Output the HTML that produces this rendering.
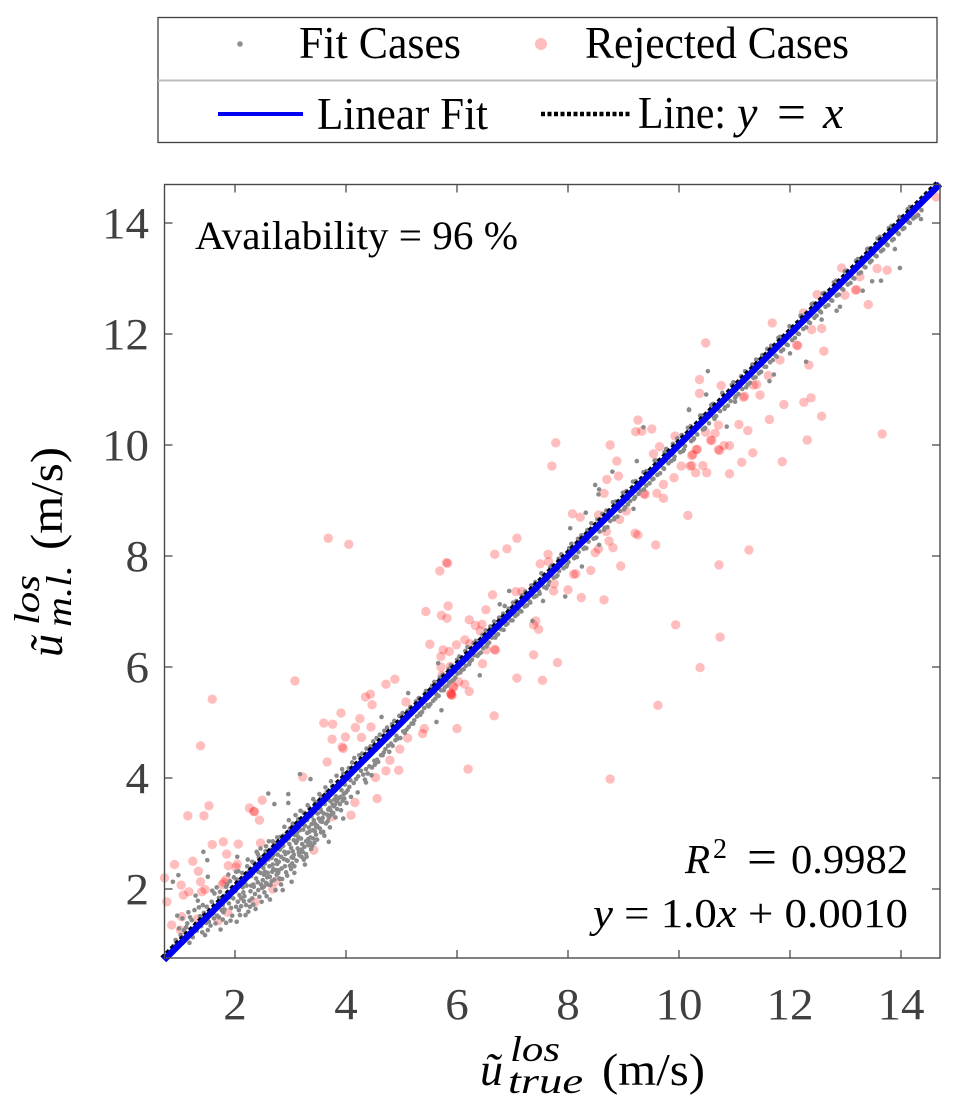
<!DOCTYPE html>
<html>
<head>
<meta charset="utf-8">
<title>Line-of-sight velocity scatter</title>
<style>
html,body{margin:0;padding:0;background:#fff;}
svg{display:block;}
text{font-family:"Liberation Serif","DejaVu Serif",serif;}
</style>
</head>
<body>
<svg id="chart" width="961" height="1111" viewBox="0 0 961 1111" xmlns="http://www.w3.org/2000/svg">
  <g id="legend">
    <rect x="158" y="17.5" width="779" height="125" fill="#fff" stroke="#404040" stroke-width="1.3"/>
    <line x1="158" y1="80.5" x2="937" y2="80.5" stroke="#bdbdbd" stroke-width="2"/>
    <circle cx="240" cy="44" r="2.8" fill="#8f8f8f"/>
    <text x="299" y="58" font-size="46" textLength="162" lengthAdjust="spacingAndGlyphs">Fit Cases</text>
    <circle cx="541" cy="44" r="6" fill="#ffbdbd"/>
    <text x="585" y="58" font-size="46" textLength="264" lengthAdjust="spacingAndGlyphs">Rejected Cases</text>
    <line x1="218" y1="114" x2="303" y2="114" stroke="#0000f0" stroke-width="4"/>
    <text x="317" y="129" font-size="46" textLength="171" lengthAdjust="spacingAndGlyphs">Linear Fit</text>
    <line x1="541" y1="114" x2="630" y2="114" stroke="#000" stroke-width="4.5" stroke-dasharray="4 2.5"/>
    <text x="638" y="128" font-size="46" textLength="88" lengthAdjust="spacingAndGlyphs">Line:</text>
    <text x="737" y="128" font-size="46" font-style="italic">y</text>
    <text x="777" y="129" font-size="50" textLength="29" lengthAdjust="spacingAndGlyphs">=</text>
    <text x="823" y="128" font-size="46" font-style="italic">x</text>
  </g>

  <rect x="164.5" y="184.5" width="775.5" height="773.5" fill="#fff"/>
  <g id="rejected"></g>
  <g id="fit"></g>
  <g id="lines"></g>
  <g id="ticks"></g>
  <rect x="164.5" y="184.5" width="775.5" height="773.5" fill="none" stroke="#4a4a4a" stroke-width="1.4"/>
  <g id="ticklabels"></g>

  <text x="195" y="249" font-size="40" textLength="323" lengthAdjust="spacingAndGlyphs">Availability = 96 %</text>

  <g>
    <text x="685" y="873" font-size="41" font-style="italic">R</text>
    <text x="713" y="858" font-size="28">2</text>
    <text x="747" y="874" font-size="50" textLength="30" lengthAdjust="spacingAndGlyphs">=</text>
    <text x="791" y="873" font-size="41" textLength="117" lengthAdjust="spacingAndGlyphs">0.9982</text>
  </g>
  <text x="593" y="927" font-size="41" textLength="315" lengthAdjust="spacingAndGlyphs"><tspan font-style="italic">y</tspan> = 1.0<tspan font-style="italic">x</tspan> + 0.0010</text>

  <g>
    <text x="480" y="1085" font-size="46" font-style="italic">ũ</text>
    <text x="510" y="1061" font-size="36" font-style="italic" textLength="50" lengthAdjust="spacingAndGlyphs">los</text>
    <text x="508" y="1093" font-size="36" font-style="italic" textLength="75" lengthAdjust="spacingAndGlyphs">true</text>
    <text x="602" y="1085" font-size="46" textLength="103" lengthAdjust="spacingAndGlyphs">(m/s)</text>
  </g>
  <g transform="translate(62,0) rotate(-90)">
    <text x="-657" y="0" font-size="46" font-style="italic">ũ</text>
    <text x="-625" y="-23" font-size="36" font-style="italic" textLength="50" lengthAdjust="spacingAndGlyphs">los</text>
    <text x="-627" y="9" font-size="36" font-style="italic" textLength="62" lengthAdjust="spacingAndGlyphs">m.l.</text>
    <text x="-550" y="0" font-size="46" textLength="103" lengthAdjust="spacingAndGlyphs">(m/s)</text>
  </g>
</svg>
<script>
const xTicks = [2, 4, 6, 8, 10, 12, 14];
const yTicks = [2, 4, 6, 8, 10, 12, 14];
const axisMin = 0.72;
const axisMax = 14.7;
const fitSlope = 1.0;
const fitIntercept = 0.001;

const rejectedCases = [
[1.59,5.42],[1.38,4.58],[3.08,5.75],[1.15,3.32],[1.44,3.32],[1.53,3.50],[0.91,2.44],[1.24,2.50],[1.34,2.32],[1.03,2.07],
[0.73,2.20],[0.77,1.77],[1.07,1.89],[1.17,1.95],[1.38,2.13],[1.40,1.95],[1.46,1.99],[0.86,1.35],[1.02,1.26],[1.04,1.50],
[1.32,1.46],[1.70,1.43],[1.87,1.58],[1.79,2.85],[1.59,2.80],[2.06,2.81],[1.85,2.63],[1.88,2.42],[2.04,2.45],[1.80,2.12],
[1.84,2.17],[1.77,2.08],[2.02,2.39],[2.36,1.76],[2.68,2.00],[2.74,2.14],[2.26,3.46],[2.34,3.40],[2.35,3.39],[2.49,3.60],
[2.44,3.24],[2.46,2.83],[3.42,2.70],[3.22,4.02],[3.66,4.29],[3.60,4.99],[3.76,4.97],[3.91,5.17],[3.75,4.70],[3.99,4.74],
[3.93,4.56],[3.95,4.53],[4.17,4.91],[4.25,5.07],[4.35,5.46],[4.44,5.51],[4.47,5.32],[4.72,5.69],[4.88,5.78],[4.45,4.92],
[4.28,4.73],[4.09,3.33],[4.16,3.56],[4.56,3.63],[4.53,4.01],[3.74,3.30],[4.72,4.13],[4.95,4.14],[4.79,4.32],[4.97,4.52],
[5.11,4.72],[5.38,4.80],[5.41,4.89],[6.00,4.89],[5.89,5.53],[5.90,5.50],[5.08,5.37],[5.93,5.64],[5.71,6.00],[9.26,10.45],
[9.22,10.24],[9.33,10.25],[9.51,10.29],[7.78,10.04],[7.71,9.62],[8.76,10.00],[8.88,9.71],[8.70,9.38],[8.91,9.44],[8.65,9.13],
[9.65,9.97],[9.54,9.84],[9.93,10.16],[10.23,9.81],[10.25,9.83],[10.31,9.92],[10.04,9.62],[10.23,9.63],[10.30,9.50],[9.91,9.41],
[9.72,9.29],[9.60,9.13],[9.72,9.04],[9.37,9.12],[9.39,9.11],[10.16,8.73],[8.08,8.76],[8.22,8.70],[8.55,8.74],[9.05,8.81],
[8.93,8.66],[9.21,8.41],[9.26,8.38],[9.58,8.20],[8.95,7.82],[8.41,7.74],[8.10,7.67],[8.14,7.68],[8.81,8.15],[8.74,8.27],
[8.69,8.44],[8.49,8.06],[8.55,8.13],[7.64,8.03],[7.50,7.86],[7.65,7.90],[7.08,8.32],[6.90,8.13],[6.68,8.03],[5.81,7.88],
[5.83,7.87],[5.69,7.73],[6.64,7.30],[7.06,7.36],[7.17,7.36],[5.84,7.10],[5.44,7.00],[5.72,6.93],[5.82,6.88],[6.52,7.03],
[6.22,6.85],[6.33,6.75],[6.45,6.77],[6.42,6.65],[6.14,6.49],[6.23,6.42],[5.99,6.40],[5.51,6.41],[5.75,6.31],[5.86,6.28],
[5.71,6.19],[5.88,6.01],[5.73,5.85],[6.03,5.73],[6.46,6.06],[6.53,6.31],[6.68,6.32],[6.69,6.30],[6.14,5.69],[6.22,5.56],
[5.89,5.51],[5.91,5.49],[5.94,5.64],[7.38,6.22],[7.81,6.08],[7.08,5.80],[7.54,5.76],[7.38,6.76],[7.47,6.68],[7.42,6.83],
[8.00,7.39],[7.74,7.37],[7.75,7.50],[8.24,7.25],[8.65,7.21],[9.94,6.76],[10.38,5.99],[11.26,8.11],[10.72,7.84],[10.74,6.54],
[9.62,5.31],[8.76,3.98],[6.20,4.16],[6.67,5.12],[3.68,8.32],[4.05,8.21],[10.48,11.84],[11.68,12.20],[10.37,11.18],[10.37,10.93],
[10.76,11.07],[12.93,13.19],[13.57,13.18],[13.75,13.15],[13.26,13.03],[13.18,12.79],[13.20,12.80],[12.99,12.70],[12.49,12.71],[13.41,12.53],
[12.24,12.38],[12.57,12.10],[12.39,12.08],[12.61,11.69],[12.34,11.44],[12.12,11.80],[12.14,11.79],[11.82,11.53],[11.61,11.25],[11.34,11.08],
[11.40,11.09],[11.46,10.90],[11.16,10.86],[11.18,10.88],[12.38,10.85],[12.25,10.77],[11.89,10.73],[11.63,10.46],[12.57,10.52],[11.08,10.37],
[11.24,10.26],[10.71,10.36],[10.65,10.21],[10.48,10.23],[10.57,10.09],[10.59,10.08],[10.71,9.92],[10.73,9.90],[10.81,9.99],[10.91,9.99],
[12.31,10.09],[13.66,10.20],[11.33,9.86],[11.13,9.69],[11.86,9.70],[10.33,9.92],[10.43,9.63],[10.50,9.50],[10.91,9.48],[10.20,9.62],
[14.63,14.47],[14.25,14.15]
];

const fitOutliers = [
[5.12,5.53],[5.63,5.01],[5.72,5.22],[4.64,5.10],[2.60,3.72],[2.96,3.71],[3.17,4.07],[3.36,3.98],[2.71,3.53],[2.96,3.55],
[1.43,2.67],[1.50,2.52],[0.98,2.25],[0.88,2.13],[1.51,2.22],[3.02,2.13],[3.69,2.85],[3.41,2.91],[3.55,3.02],[3.95,3.27],
[4.36,3.92],[4.46,4.05],[10.18,10.63],[9.36,10.32],[9.24,9.71],[8.80,9.52],[8.49,9.28],[8.56,9.20],[8.55,9.11],[8.04,8.50],
[8.32,8.78],[8.25,7.81],[7.95,7.27],[7.55,7.19],[6.94,7.37],[6.77,7.13],[6.86,7.10],[6.41,5.85],[7.36,6.83],[9.18,8.85],
[8.56,8.20],[5.66,6.07],[13.98,13.19],[13.64,12.96],[13.48,12.95],[13.31,12.78],[12.90,12.49],[12.84,12.42],[14.36,14.07],[13.89,13.53],
[12.57,12.26],[12.29,11.50],[12.00,11.65],[11.71,11.27],[11.63,11.15],[10.52,11.33],[10.49,10.91],[10.18,10.64],[10.86,10.33],[11.01,10.78]
];

const fitLowRange = [
[1.12,1.31],[0.93,1.08],[1.27,1.62],[1.05,1.47],[1.41,1.22],[0.96,1.52],[1.33,1.79],[1.18,1.03],[1.49,1.68],[1.08,1.26],
[1.56,1.34],[1.22,1.44],[1.37,1.51],[0.99,1.29],[1.63,1.92],[1.46,1.17],[1.29,1.88],[1.71,1.49],[1.16,1.58],[1.53,1.41],
[1.84,1.39],[1.67,2.03],[1.39,1.33],[1.76,1.62],[1.58,1.77],[1.91,2.14],[1.74,1.27],[1.82,1.88],[1.95,1.52],[1.61,1.56],
[2.03,1.41],[1.88,2.26],[2.11,1.69],[1.97,1.83],[2.19,1.53],[2.06,2.32],[1.78,1.45],[2.14,2.03],[2.27,1.68],[1.93,1.66],
[2.09,1.53],[2.22,2.41],[2.01,1.96],[2.33,1.72],[2.17,1.87],[2.41,2.12],[2.24,1.59],[2.04,2.58],[2.36,1.91],[2.48,1.77],
[2.12,2.17],[2.29,2.23],[2.53,1.94],[2.39,2.67],[2.21,2.06],[2.58,2.21],[2.44,1.86],[2.31,2.49],[2.63,1.81],[2.51,2.38],
[2.26,1.79],[2.68,2.44],[2.46,2.73],[2.73,1.98],[2.56,2.11],[2.34,2.04],[2.78,2.29],[2.61,2.86],[2.42,2.31],[2.83,2.08],
[2.66,2.56],[2.86,1.98],[2.49,2.02],[2.71,2.17],[2.91,2.63],[2.76,2.93],[2.54,2.46],[2.94,2.24],[2.81,2.71],[2.59,2.29],
[2.98,2.81],[2.84,2.37],[2.64,2.07],[3.03,2.46],[2.89,3.12],[2.69,2.61],[3.07,2.29],[2.93,2.52],[3.12,3.02],[2.74,2.34],
[3.16,2.61],[2.97,3.24],[2.79,2.49],[3.21,2.81],[3.04,2.68],[3.26,2.44],[2.87,2.78],[3.09,3.33],[3.29,2.58],[2.92,2.87],
[3.14,2.94],[3.33,3.11],[3.01,2.36],[3.18,3.41],[3.37,2.72],[3.06,2.88],[3.23,3.07],[3.42,3.24],[3.11,2.51],[3.28,2.86],
[3.46,2.98],[3.17,3.18],[3.31,3.51],[3.49,3.36],[3.22,2.67],[3.36,2.93],[3.53,3.09],[3.27,3.28],[3.41,3.62],[3.57,3.21],
[3.32,2.79],[3.47,3.48],[3.61,2.96],[3.38,3.17],[3.52,3.71],[3.66,3.34],[3.44,3.04],[3.58,3.56],[3.71,3.11],[3.51,3.27],
[3.63,3.83],[3.76,3.52],[3.56,3.39],[3.68,3.43],[3.81,3.29],[3.62,3.69],[3.73,3.94],[3.86,3.63],[3.67,3.22],[3.78,3.76],
[3.91,3.42],[3.72,3.58],[3.83,4.04],[3.96,3.71],[3.77,3.37],[3.88,3.86],[4.01,3.55],[3.82,3.67],[3.93,4.16],[4.06,3.84],
[0.89,0.97],[1.02,1.17],[1.14,1.38],[1.24,1.13],[1.35,1.67],[1.44,1.57],[1.51,1.26],[1.59,1.97],[1.65,1.38],[1.69,1.72],
[1.73,1.95],[1.79,1.58],[1.86,2.08],[1.89,1.74],[1.92,1.43],[1.98,2.21],[2.02,1.68],[2.07,1.62],[2.13,2.29],[2.16,1.78],
[2.18,2.11],[2.23,2.53],[2.28,1.96],[2.32,2.28],[2.37,1.64],[2.43,2.57],[2.47,2.08],[2.52,2.26],[2.55,2.68],[2.57,1.87],
[2.62,2.41],[2.67,2.31],[2.72,2.77],[2.75,2.26],[2.77,2.62],[2.82,2.94],[2.85,2.18],[2.88,2.54],[2.96,2.66],[2.99,3.09],
[3.02,2.57],[3.08,2.97],[3.13,2.73],[3.19,3.23],[3.24,2.53],[3.34,3.03],[3.39,3.42],[3.43,2.83],[3.48,3.14],[3.54,3.44]
];

const fitLowDense = [
[1.74,1.83],[2.03,2.17],[1.96,2.03],[1.68,1.52],[1.81,1.63],[2.08,1.89],[2.15,1.94],[2.25,2.31],[2.11,1.83],[1.87,1.94],
[2.35,2.47],[2.19,2.27],[2.29,2.06],[2.38,2.19],[2.45,2.52],[2.33,2.08],[2.41,2.63],[2.5,2.16],[2.46,2.29],[2.56,2.77],
[2.54,2.31],[2.6,2.53],[2.59,2.08],[2.65,2.71],[2.69,2.36],[2.63,2.22],[2.74,2.52],[2.7,2.83],[2.79,2.34],[2.76,2.45],
[2.83,2.58],[2.86,2.88],[2.81,2.18],[2.9,2.41],[2.89,2.67],[2.94,2.97],[2.95,2.51],[2.99,2.42],[3.01,2.74],[3.04,3.18],
[3.05,2.56],[3.1,2.83],[3.07,2.41],[3.14,3.26],[3.15,2.66],[3.19,2.91],[3.2,2.58],[3.24,3.37],[3.25,2.76],[3.3,3.01],
[3.28,2.63],[3.34,3.46],[3.35,2.84],[3.4,3.06],[3.39,2.78],[3.45,3.56],[3.44,3.18],[3.5,3.11],[3.48,2.89],[3.55,3.64],
[3.54,3.22],[3.6,3.36],[3.59,3.03],[3.65,3.74],[3.64,3.18],[3.7,3.46],[3.69,3.29],[3.75,3.85],[3.74,3.34],[3.8,3.52],
[3.79,3.61],[3.85,3.93],[3.84,3.44],[3.9,3.66],[3.89,3.53],[3.95,4.08],[3.94,3.59],[4.0,3.74],[3.98,3.88],[4.05,4.18],
[2.02,2.31],[1.84,2.04],[1.71,1.84],[1.55,1.57],[1.42,1.71],[1.31,1.25],[1.19,1.49],[1.1,1.13],[1.48,1.39],[1.62,1.47],
[1.78,1.71],[1.9,1.85],[2.05,1.77],[2.2,1.71],[2.31,1.83],[2.42,1.98],[2.52,2.04],[2.66,2.14],[2.8,2.19],[2.92,2.3],
[3.06,2.62],[3.2,2.71],[3.32,2.9],[3.46,3.12],[3.58,3.28],[3.72,3.42],[3.84,3.58],[3.97,3.63],[2.39,2.42],[2.58,2.64],
[2.73,2.71],[2.87,2.96],[3.03,3.12],[3.17,3.06],[3.3,3.24],[3.44,3.38],[3.62,3.53],[3.78,3.49],[3.92,3.78],[4.08,3.96],
[2.48,2.57],[2.68,2.86],[2.84,2.76],[2.97,2.91],[3.12,2.87],[3.26,3.14],[3.38,3.31],[3.52,3.49],[3.68,3.61],[3.82,3.79]
];

const fitMidRange = [
[4.11,4.28],[4.03,3.78],[4.18,3.98],[4.09,3.66],[4.24,4.41],[4.14,3.91],[4.31,4.06],[4.21,3.74],[4.37,4.53],[4.27,4.13],
[4.42,4.21],[4.34,3.97],[4.49,4.66],[4.39,4.08],[4.56,4.33],[4.47,4.19],[4.61,4.78],[4.52,4.24],[4.68,4.46],[4.58,4.29],
[4.74,4.91],[4.66,4.41],[4.81,4.62],[4.71,4.52],[4.87,5.03],[4.78,4.47],[4.93,4.71],[4.84,4.58],[5.02,5.17],[4.91,4.76],
[5.09,4.87],[4.98,4.72],[5.16,5.28],[5.06,4.81],[5.23,5.04],[5.13,4.92],[5.31,5.44],[5.21,4.98],[5.37,5.19],[5.28,5.11],
[5.44,5.57],[5.34,5.14],[5.52,5.33],[5.41,5.26],[5.59,5.73],[5.49,5.29],[5.67,5.48],[5.57,5.39],[5.74,5.86],[5.63,5.51],
[5.82,5.66],[5.71,5.58],[5.89,6.03],[5.78,5.63],[5.97,5.81],[5.86,5.72],[6.04,6.19],[5.94,5.77],[6.12,5.96],[6.01,5.88],
[6.19,6.36],[6.08,5.94],[6.27,6.13],[6.16,6.02],[6.34,6.47],[6.23,6.09],[6.43,6.26],[6.31,6.21],[6.52,6.66],[6.39,6.23],
[6.58,6.44],[6.47,6.34],[6.67,6.82],[6.55,6.41],[6.74,6.59],[6.63,6.53],[6.83,6.96],[6.71,6.57],[6.91,6.78],[6.79,6.68],
[7.01,7.16],[6.88,6.76],[7.09,6.95],[6.97,6.84],[7.17,7.29],[7.05,6.92],[7.26,7.11],[7.13,7.02],[7.34,7.47],[7.22,7.09],
[7.43,7.28],[7.31,7.18],[7.52,7.69],[7.39,7.26],[7.61,7.42],[7.48,7.36],[7.71,7.83],[7.57,7.44],[7.79,7.63],[7.66,7.54],
[7.88,8.03],[7.74,7.61],[7.97,7.81],[7.84,7.73],[8.06,8.22],[7.92,7.78],[8.16,7.98],[8.01,7.89],[8.24,8.37],[8.11,7.96],
[8.33,8.14],[8.19,8.07],[8.42,8.59],[8.28,8.13],[8.51,8.33],[8.37,8.26],[8.62,8.76],[8.46,8.31],[8.71,8.52],[8.57,8.44],
[8.81,8.97],[8.66,8.51],[8.89,8.71],[8.76,8.63],[8.99,9.14],[8.84,8.69],[9.08,8.93],[8.94,8.81],[9.17,9.34],[9.03,8.88]
];

const fitBandDense = [
[4.15,4.36],[4.29,4.44],[4.44,4.57],[4.55,4.72],[4.69,4.85],[4.83,4.97],[4.96,5.12],[5.11,5.21],[5.26,5.38],[5.42,5.52],
[5.55,5.66],[5.69,5.81],[5.85,5.96],[6.0,6.13],[6.15,6.29],[6.3,6.43],[6.46,6.58],[6.6,6.73],[6.76,6.89],[6.93,7.05],
[7.07,7.19],[7.23,7.36],[7.41,7.53],[7.55,7.66],[7.68,7.79],[7.83,7.95],[8.02,8.14],[8.18,8.31],[8.35,8.47],[8.53,8.66],
[8.69,8.82],[8.86,8.98],[9.05,9.17],[9.22,9.35],[9.41,9.53],[9.59,9.72],[9.74,9.87],[9.89,10.02],[10.05,10.18],[10.21,10.34],
[10.41,10.53],[10.61,10.74],[10.79,10.91],[10.95,11.08],[11.12,11.24],[11.32,11.45],[11.5,11.62],[11.66,11.79],[11.82,11.95],[12.01,12.13],
[12.21,12.33],[12.42,12.55],[12.62,12.74],[12.83,12.96],[13.02,13.14],[13.22,13.35],[13.42,13.54],[13.62,13.75],[13.83,13.95],[14.12,14.25],
[4.22,4.03],[4.36,4.16],[4.51,4.31],[4.63,4.41],[4.76,4.58],[4.89,4.68],[5.03,4.84],[5.18,4.98],[5.33,5.16],[5.47,5.31],
[5.61,5.43],[5.76,5.58],[5.91,5.75],[6.06,5.9],[6.22,6.05],[6.37,6.2],[6.53,6.37],[6.69,6.53],[6.84,6.67],[7.0,6.84],
[7.16,7.0],[7.32,7.16],[7.49,7.32],[7.64,7.47],[7.81,7.65],[7.98,7.83],[8.14,7.99],[8.31,8.15],[8.48,8.32],[8.65,8.47],
[8.83,8.66],[9.01,8.84],[9.19,9.03],[9.37,9.2],[9.54,9.39],[9.73,9.57],[9.91,9.74],[10.09,9.92],[10.26,10.1],[10.46,10.29],
[10.64,10.47],[10.82,10.65],[11.01,10.85],[11.21,11.04],[11.38,11.22],[11.57,11.41],[11.76,11.59],[11.96,11.8],[12.16,12.0],[12.36,12.2],
[12.56,12.39],[12.76,12.6],[12.96,12.8],[13.16,13.0],[13.36,13.2],[13.56,13.4],[13.76,13.6],[13.96,13.8],[14.16,14.0],[14.31,14.14]
];

const fitHighRange = [
[9.27,9.12],[9.12,8.99],[9.36,9.51],[9.21,9.06],[9.47,9.31],[9.31,9.18],[9.56,9.72],[9.41,9.27],[9.66,9.49],[9.52,9.38],
[9.77,9.93],[9.61,9.46],[9.86,9.71],[9.72,9.58],[9.97,10.12],[9.81,9.67],[10.07,9.89],[9.92,9.79],[10.16,10.31],[10.02,9.87],
[10.27,10.12],[10.11,9.98],[10.38,10.53],[10.22,10.07],[10.47,10.31],[10.33,10.19],[10.58,10.72],[10.43,10.28],[10.67,10.52],[10.54,10.39],
[10.78,10.94],[10.63,10.49],[10.88,10.71],[10.74,10.61],[10.98,11.13],[10.83,10.68],[11.07,10.92],[10.93,10.79],[11.19,11.33],[11.03,10.88],
[11.28,11.12],[11.14,11.01],[11.39,11.54],[11.24,11.09],[11.48,11.32],[11.34,11.21],[11.59,11.73],[11.44,11.29],[11.69,11.53],[11.54,11.41],
[11.79,11.93],[11.64,11.49],[11.88,11.72],[11.74,11.61],[11.99,12.14],[11.84,11.69],[12.09,11.93],[11.94,11.81],[12.19,12.33],[12.04,11.89],
[12.29,12.12],[12.14,12.01],[12.39,12.54],[12.24,12.09],[12.48,12.33],[12.34,12.21],[12.59,12.73],[12.44,12.29],[12.69,12.52],[12.54,12.41],
[12.79,12.93],[12.64,12.49],[12.88,12.71],[12.74,12.61],[12.99,13.13],[12.84,12.69],[13.09,12.92],[12.94,12.81],[13.19,13.32],[13.04,12.89],
[13.28,13.11],[13.14,13.01],[13.39,13.53],[13.24,13.09],[13.47,13.32],[13.34,13.21],[13.58,13.72],[13.44,13.29],[13.68,13.52],[13.54,13.41],
[13.78,13.91],[13.64,13.49],[13.87,13.71],[13.74,13.62],[13.97,14.11],[13.84,13.69],[14.06,13.91],[13.94,13.82],[14.16,14.29],[14.03,13.89],
[14.26,14.11],[14.13,14.02],[14.37,14.23],[14.22,14.08]
];

const SVG_NS = 'http://www.w3.org/2000/svg';
function xScale(v) { return 235 + (v - 2) * 55.5; }
function yScale(v) { return 889 - (v - 2) * 55.5; }
function make(tag, attrs) {
  const el = document.createElementNS(SVG_NS, tag);
  for (const k in attrs) el.setAttribute(k, attrs[k]);
  return el;
}

const rejectedGroup = document.getElementById('rejected');
rejectedCases.forEach(function (p) {
  const c = make('circle', { cx: xScale(p[0]), cy: yScale(p[1]), r: 4.7, fill: '#ff0000', 'fill-opacity': 0.26 });
  
  
  rejectedGroup.appendChild(c);
});

const fitGroup = document.getElementById('fit');
fitOutliers.concat(fitLowRange, fitLowDense, fitMidRange, fitBandDense, fitHighRange).forEach(function (p) {
  const c = make('circle', { cx: xScale(p[0]), cy: yScale(p[1]), r: 2.3, fill: '#8a8a8a' });
  
  
  fitGroup.appendChild(c);
});

const lineGroup = document.getElementById('lines');
const identityLine = make('line', {
  x1: xScale(axisMin) - 1.5, y1: yScale(axisMin) - 1.5,
  x2: xScale(axisMax) - 1.5, y2: yScale(axisMax) - 1.5,
  stroke: '#000', 'stroke-width': 6, 'stroke-dasharray': '4 2.5'
});


lineGroup.appendChild(identityLine);
const fitLine = make('line', {
  x1: xScale(axisMin), y1: yScale(fitSlope * axisMin + fitIntercept),
  x2: xScale(axisMax), y2: yScale(fitSlope * axisMax + fitIntercept),
  stroke: '#0000f0', 'stroke-width': 6.5
});


lineGroup.appendChild(fitLine);

const tickGroup = document.getElementById('ticks');
const labelGroup = document.getElementById('ticklabels');
const TICK_COLOR = '#4a4a4a';
xTicks.forEach(function (t) {
  const x = xScale(t);
  const bottom = make('line', { x1: x, y1: 958, x2: x, y2: 950, stroke: TICK_COLOR, 'stroke-width': 1.3 });
  
  
  tickGroup.appendChild(bottom);
  const top = make('line', { x1: x, y1: 184.5, x2: x, y2: 192.5, stroke: TICK_COLOR, 'stroke-width': 1.3 });
  
  
  tickGroup.appendChild(top);
  const label = make('text', { x: x, y: 1019, 'font-size': 44, fill: '#404040', 'text-anchor': 'middle', textLength: String(t).length * 23.5, lengthAdjust: 'spacingAndGlyphs' });
  
  
  label.textContent = String(t);
  labelGroup.appendChild(label);
});
yTicks.forEach(function (t) {
  const y = yScale(t);
  const left = make('line', { x1: 164.5, y1: y, x2: 172.5, y2: y, stroke: TICK_COLOR, 'stroke-width': 1.3 });
  
  
  tickGroup.appendChild(left);
  const right = make('line', { x1: 940, y1: y, x2: 932, y2: y, stroke: TICK_COLOR, 'stroke-width': 1.3 });
  
  
  tickGroup.appendChild(right);
  const label = make('text', { x: 149, y: y + 15, 'font-size': 44, fill: '#404040', 'text-anchor': 'end', textLength: String(t).length * 23.5, lengthAdjust: 'spacingAndGlyphs' });
  
  
  label.textContent = String(t);
  labelGroup.appendChild(label);
});
</script>
</body>
</html>
